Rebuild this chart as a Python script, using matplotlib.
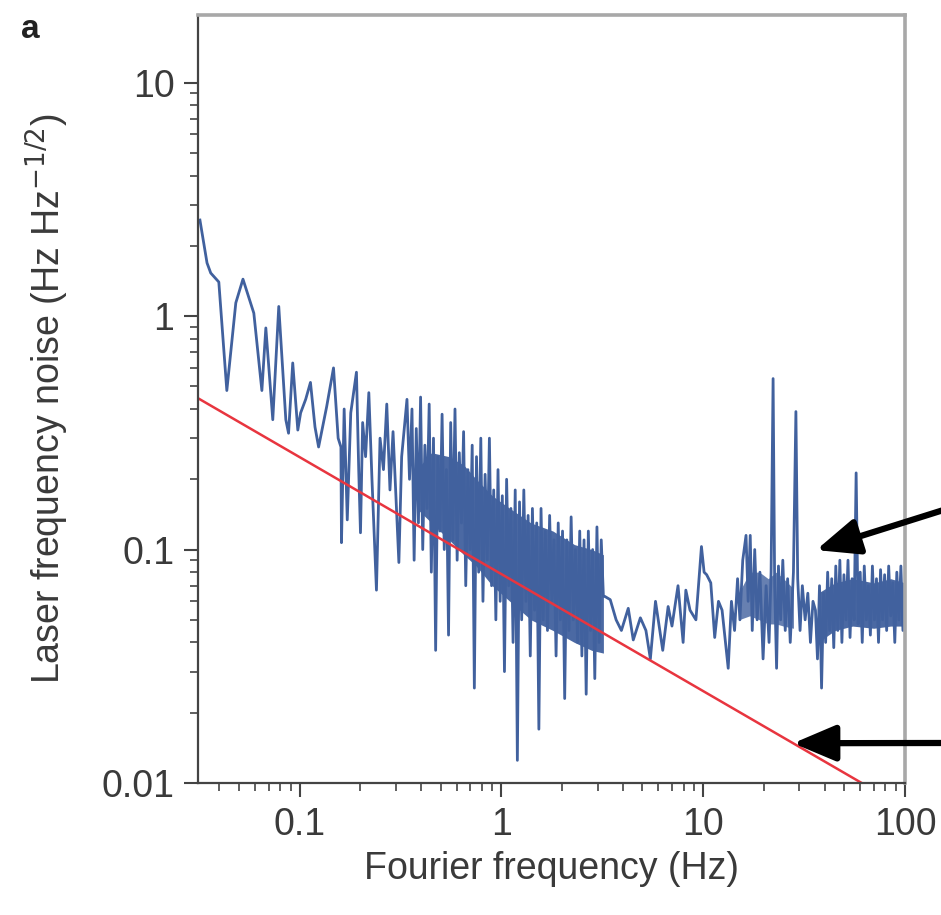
import numpy as np
import matplotlib.pyplot as plt
from matplotlib.ticker import LogLocator, NullFormatter, FixedLocator, FixedFormatter

plt.rcParams['font.family'] = ['Liberation Sans', 'DejaVu Sans']

# sparse low-frequency part of the spectrum (Hz, Hz/sqrt(Hz))
low_f = [0.032, 0.0347, 0.0362, 0.0397, 0.0435, 0.0482, 0.0523, 0.0592, 0.0649, 0.0679,
         0.0735, 0.0787, 0.0853, 0.088, 0.0923, 0.0978, 0.101, 0.107, 0.113, 0.119,
         0.124, 0.136, 0.147, 0.155, 0.160, 0.161, 0.166, 0.172, 0.179, 0.191,
         0.196, 0.200, 0.205, 0.212, 0.22, 0.228, 0.24, 0.25, 0.26, 0.27,
         0.28, 0.29, 0.31, 0.32, 0.34, 0.35]
low_v = [2.58, 1.69, 1.53, 1.40, 0.48, 1.14, 1.44, 1.03, 0.48, 0.89,
         0.36, 1.10, 0.36, 0.315, 0.63, 0.325, 0.385, 0.44, 0.52, 0.335,
         0.275, 0.41, 0.60, 0.30, 0.275, 0.107, 0.40, 0.134, 0.385, 0.575,
         0.22, 0.118, 0.35, 0.25, 0.47, 0.20, 0.067, 0.30, 0.22, 0.42,
         0.18, 0.32, 0.088, 0.25, 0.44, 0.20]

# dense band 0.36 - 3.2 Hz, read as alternating highs and lows
dense1_range = (0.36, 3.2)
dense1_v = [0.40, 0.09, 0.33, 0.13, 0.45, 0.10, 0.28, 0.15, 0.42, 0.08,
            0.30, 0.037, 0.25, 0.12, 0.38, 0.10, 0.22, 0.043, 0.35, 0.11,
            0.40, 0.09, 0.26, 0.13, 0.32, 0.07, 0.22, 0.10, 0.28, 0.0255,
            0.25, 0.08, 0.30, 0.06, 0.21, 0.09, 0.30, 0.07, 0.18, 0.05,
            0.22, 0.06, 0.17, 0.030, 0.20, 0.07, 0.15, 0.04, 0.18, 0.0125,
            0.16, 0.05, 0.18, 0.06, 0.14, 0.035, 0.15, 0.055, 0.13, 0.017,
            0.15, 0.05, 0.12, 0.045, 0.14, 0.06, 0.11, 0.035, 0.13, 0.05,
            0.12, 0.023, 0.11, 0.045, 0.138, 0.05, 0.10, 0.04, 0.12, 0.035,
            0.11, 0.024, 0.12, 0.045, 0.10, 0.028, 0.125, 0.04, 0.11, 0.063]

# sparser middle part 3.2 - 36 Hz
mid_f = [3.25, 3.46, 3.7, 3.93, 4.25, 4.5, 4.88, 5.2, 5.47, 5.8,
         6.3, 6.7, 7.0, 7.5, 7.95, 8.2, 8.6, 9.2, 9.8, 10.1,
         10.4, 10.9, 11.4, 11.9, 12.4, 12.9, 13.3, 13.8, 14.3, 14.8,
         15.2, 15.7, 16.3, 16.7, 17.1, 17.5, 18.0, 18.5, 19.1, 19.8,
         20.5, 21.2, 21.7, 22.2, 22.6, 23.1, 23.6, 24.2, 24.8, 25.5,
         26.2, 27.0, 28.0, 28.8, 29.4, 30.2, 31.0, 32.0, 33.0, 34.0, 35.0]
mid_v = [0.063, 0.061, 0.05, 0.045, 0.056, 0.041, 0.051, 0.045, 0.034, 0.060,
         0.037, 0.057, 0.047, 0.070, 0.040, 0.067, 0.055, 0.050, 0.103, 0.08,
         0.078, 0.072, 0.042, 0.06, 0.055, 0.04, 0.031, 0.06, 0.045, 0.075,
         0.05, 0.09, 0.115, 0.06, 0.115, 0.045, 0.10, 0.05, 0.08, 0.034,
         0.07, 0.04, 0.08, 0.54, 0.07, 0.031, 0.085, 0.05, 0.09, 0.045,
         0.075, 0.04, 0.08, 0.39, 0.075, 0.045, 0.07, 0.05, 0.065, 0.04, 0.06]

# dense band 36 - 100 Hz
dense2_range = (36.0, 100.0)
dense2_v = [0.055, 0.034, 0.07, 0.0255, 0.065, 0.04, 0.08, 0.045, 0.075, 0.038,
            0.085, 0.045, 0.09, 0.04, 0.078, 0.05, 0.09, 0.042, 0.075, 0.05,
            0.213, 0.048, 0.08, 0.04, 0.085, 0.05, 0.07, 0.043, 0.085, 0.05,
            0.075, 0.04, 0.082, 0.05, 0.078, 0.045, 0.085, 0.052, 0.072, 0.04,
            0.08, 0.05, 0.085, 0.045, 0.07]

# solid cores of the dense bands (upper / lower edge)
core1_f = [0.38, 0.45, 0.55, 0.65, 0.75, 0.9, 1.1, 1.4, 1.8, 2.3, 2.8, 3.2]
core1_hi = [0.22, 0.26, 0.25, 0.23, 0.20, 0.17, 0.15, 0.13, 0.12, 0.105, 0.10, 0.095]
core1_lo = [0.15, 0.13, 0.11, 0.095, 0.085, 0.07, 0.06, 0.05, 0.045, 0.04, 0.037, 0.036]
core2_f = [37, 45, 55, 70, 85, 100]
core2_hi = [0.065, 0.072, 0.075, 0.072, 0.075, 0.072]
core2_lo = [0.04, 0.045, 0.047, 0.046, 0.047, 0.047]
core3_f = [15, 17, 19, 21, 23, 25, 28]
core3_hi = [0.065, 0.08, 0.08, 0.075, 0.08, 0.075, 0.068]
core3_lo = [0.05, 0.052, 0.05, 0.048, 0.048, 0.047, 0.046]

# f^-1/2 reference line, end points
red_f = [0.0313, 61.0]
red_v = [0.445, 0.01]

d1_f = np.geomspace(*dense1_range, len(dense1_v))
d2_f = np.geomspace(*dense2_range, len(dense2_v))
freq = np.concatenate([low_f, d1_f, mid_f, d2_f])
noise = np.concatenate([low_v, dense1_v, mid_v, dense2_v])

blue = '#41619e'
fig = plt.figure(figsize=(9.41, 9.15), dpi=100)
ax = fig.add_axes([0.2104, 0.1443, 0.7513, 0.8393])

ax.fill_between(core1_f, core1_lo, core1_hi, color=blue, lw=0, alpha=0.95)
ax.fill_between(core2_f, core2_lo, core2_hi, color=blue, lw=0, alpha=0.95)
ax.fill_between(core3_f, core3_lo, core3_hi, color=blue, lw=0, alpha=0.8)
ax.plot(freq, noise, color=blue, lw=2.0)
ax.plot(red_f, red_v, color='#e8353f', lw=1.8)

ax.set_xscale('log')
ax.set_yscale('log')
ax.set_xlim(0.0313, 100)
ax.set_ylim(0.01, 19.5)

txt = '#3a3a3a'
ax.xaxis.set_major_locator(FixedLocator([0.1, 1, 10, 100]))
ax.xaxis.set_major_formatter(FixedFormatter(['0.1', '1', '10', '100']))
ax.yaxis.set_major_locator(FixedLocator([0.01, 0.1, 1, 10]))
ax.yaxis.set_major_formatter(FixedFormatter(['0.01', '0.1', '1', '10']))
for a in (ax.xaxis, ax.yaxis):
    a.set_minor_locator(LogLocator(base=10, subs=np.arange(2, 10), numticks=20))
    a.set_minor_formatter(NullFormatter())

ax.tick_params(which='major', direction='out', length=10, width=1.5,
               color='#444444', labelsize=27, labelcolor=txt, pad=7)
ax.tick_params(which='minor', direction='out', length=6, width=1.2, color='#444444')
ax.tick_params(top=False, right=False, which='both')

for s in ('left', 'bottom'):
    ax.spines[s].set_color('#444444')
    ax.spines[s].set_linewidth(1.6)
for s in ('top', 'right'):
    ax.spines[s].set_color('#a8a8a8')
    ax.spines[s].set_linewidth(2.6)

ax.set_xlabel('Fourier frequency (Hz)', fontsize=27, color=txt, labelpad=6)
ax.set_ylabel('Laser frequency noise (Hz Hz$^{-1/2}$)', fontsize=27, color=txt, labelpad=22)

fig.text(0.022, 0.958, 'a', fontsize=24, fontweight='bold', color='#222222')

# arrows coming from the right edge of the figure
arrow = dict(arrowstyle='-|>,head_length=2.6,head_width=1.1', color='black', lw=4.5,
             shrinkA=0, shrinkB=0)
ax.annotate('', xy=(36.3, 0.0995), xycoords='data', xytext=(1.01, 0.445),
            textcoords='figure fraction', arrowprops=arrow, annotation_clip=False)
ax.annotate('', xy=(27.9, 0.0148), xycoords='data', xytext=(1.01, 0.188),
            textcoords='figure fraction', arrowprops=arrow, annotation_clip=False)

fig.savefig('out.png', dpi=100)
